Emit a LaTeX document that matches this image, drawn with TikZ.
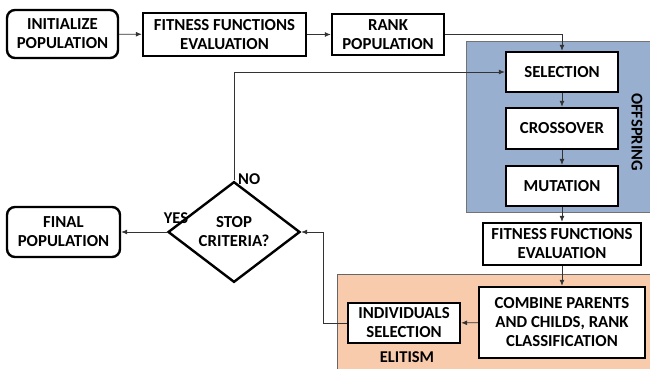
\documentclass[tikz,border=0pt]{standalone}
\usepackage{fontspec}
\setmainfont{Carlito}
\usetikzlibrary{shapes.geometric,arrows.meta}
\definecolor{offblue}{HTML}{98AFCF}
\definecolor{eliteorange}{HTML}{F8CBAD}
\begin{document}
\begin{tikzpicture}[x=1pt,y=-1pt,
  every node/.style={font=\bfseries\fontsize{16.8}{19}\selectfont, align=center, inner sep=0pt},
  box/.style={draw=black, line width=2.4pt, fill=white},
  rbox/.style={box, rounded corners=8pt},
  conn/.style={draw=black!80, line width=0.8pt},
  arr/.style={conn, -{Latex[length=6pt,width=5pt]}},
  lbl/.style={font=\bfseries\fontsize{16.5}{18}\selectfont}]
\useasboundingbox (0,0) rectangle (650,369);
% groups
\fill[offblue, draw=black!55, line width=0.6pt] (466,41) rectangle (652,212);
\fill[eliteorange, draw=black!60, line width=0.6pt] (337,274) rectangle (652,371);
\node[lbl, rotate=-90] (offlbl) at (637,132) {OFFSPRING};
\node[lbl] (elitelbl) at (407,357) {ELITISM};
% nodes
\node[rbox, minimum width=111pt, minimum height=48pt] (init) at (62.5,34) {INITIALIZE\\POPULATION};
\node[box, minimum width=163pt, minimum height=43pt] (fit1) at (224.5,34.5) {FITNESS FUNCTIONS\\EVALUATION};
\node[box, minimum width=112pt, minimum height=41pt] (rank) at (388,34.5) {RANK\\POPULATION};
\node[box, minimum width=112pt, minimum height=40pt] (sel) at (562,72) {SELECTION};
\node[box, minimum width=112pt, minimum height=41pt] (cross) at (562,128.5) {CROSSOVER};
\node[box, minimum width=112pt, minimum height=40pt] (mut) at (562,186) {MUTATION};
\node[box, minimum width=158pt, minimum height=42pt] (fit2) at (562,244) {FITNESS FUNCTIONS\\EVALUATION};
\node[box, minimum width=166pt, minimum height=71pt] (comb) at (562,322.5) {COMBINE PARENTS\\AND CHILDS, RANK\\CLASSIFICATION};
\node[box, minimum width=112pt, minimum height=40pt] (indiv) at (404,323) {INDIVIDUALS\\SELECTION};
\node[draw=black, line width=2.4pt, fill=white, diamond, minimum width=132pt, minimum height=86pt] (stop) at (234,232) {STOP\\CRITERIA?};
\node[rbox, minimum width=113pt, minimum height=50pt] (final) at (63.5,232) {FINAL\\POPULATION};
\node[lbl, anchor=west] (nolbl) at (238,179) {NO};
\node[lbl] (yeslbl) at (176,218) {YES};
\coordinate (c1) at (323,323);
% connectors
\draw[arr] (init) -- (fit1);
\draw[arr] (fit1) -- (rank);
\draw[arr] (rank.east) -| (sel.north);
\draw[arr] (sel) -- (cross);
\draw[arr] (cross) -- (mut);
\draw[arr] (mut) -- (fit2);
\draw[arr] (fit2) -- (comb);
\draw[arr] (comb) -- (indiv);
\draw[arr] (indiv.west) -- (c1) |- (stop.east);
\draw[arr] (stop.north) |- (sel.west);
\draw[arr] (stop.west) -- (final.east);
\end{tikzpicture}
\end{document}
